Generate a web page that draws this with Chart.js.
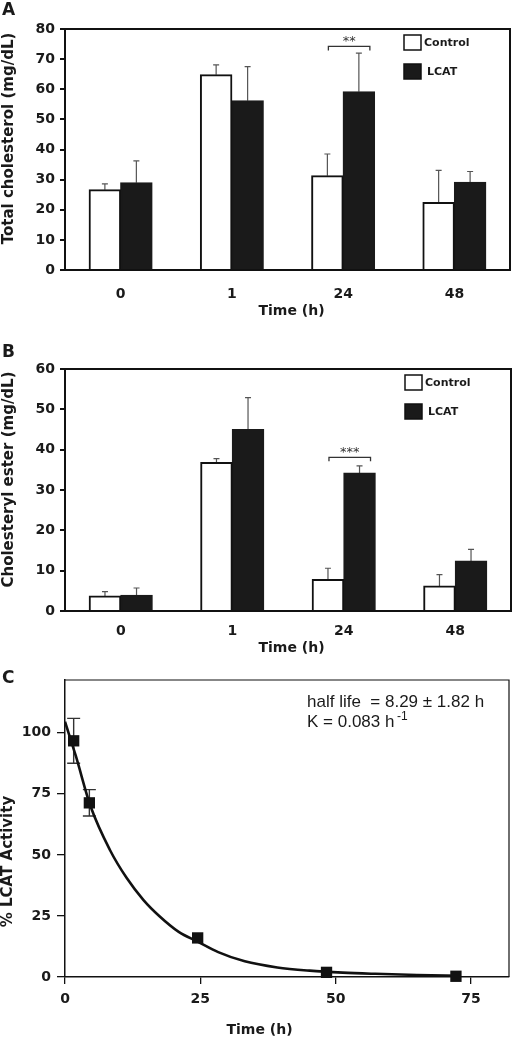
<!DOCTYPE html>
<html>
<head>
<meta charset="utf-8">
<script src="https://cdn.jsdelivr.net/npm/chart.js@4.4.1/dist/chart.umd.min.js"></script>
<style>
  body { margin: 0; background: #fff; }
  #page { position: relative; width: 517px; height: 1041px; overflow: hidden; }
  .panel { position: absolute; left: 0; width: 517px; }
  .letter { position: absolute; left: 2px; margin: 0; font: bold 17px/17px "DejaVu Sans", sans-serif; color: #1a1a1a; }
</style>
</head>
<body>
<div id="page">
  <div class="panel" style="top:0;height:335px"><canvas id="chartA"></canvas></div>
  <div class="panel" style="top:335px;height:330px"><canvas id="chartB"></canvas></div>
  <div class="panel" style="top:665px;height:376px"><canvas id="chartC"></canvas></div>
  <div class="letter" style="top:1px">A</div>
  <div class="letter" style="top:343px">B</div>
  <div class="letter" style="top:669px">C</div>
</div>
<script>
// data
const timeLabels = ['0', '1', '24', '48'];
const seriesNames = ['Control', 'LCAT'];

// A - total cholesterol (mg/dL), mean and upper SD
const cholControl = [26.6, 64.8, 31.3, 22.4];
const cholControlErr = [2.0, 3.3, 7.2, 10.7];
const cholLcat = [29.0, 56.2, 59.2, 29.1];
const cholLcatErr = [7.2, 11.3, 12.8, 3.6];
const cholTicks = [0, 10, 20, 30, 40, 50, 60, 70, 80];
const cholSig = { index: 2, value: 74.2, text: '**' };

// B - cholesteryl ester (mg/dL)
const esterControl = [3.7, 36.8, 7.8, 6.2];
const esterControlErr = [1.1, 1.0, 2.8, 2.8];
const esterLcat = [3.9, 45.0, 34.2, 12.4];
const esterLcatErr = [1.8, 7.9, 1.8, 2.9];
const esterTicks = [0, 10, 20, 30, 40, 50, 60];
const esterSig = { index: 2, value: 38.1, text: '***' };

// C - % LCAT activity over time
const decayTime = [1.6, 4.5, 24.5, 48.3, 72.2];
const decayActivity = [96.7, 71.3, 16.0, 1.9, 0.3];
const decayErr = [9.2, 5.4, 0, 0, 0];
const fitTime = [0, 2, 4.7, 8.3, 11.4, 14.5, 17.4, 21, 24.5, 28.3, 33.2, 39.2, 45.2, 51.3, 57.3, 65, 73];
const fitActivity = [104.5, 90.5, 70, 52, 40.5, 31.5, 25, 18.5, 14.5, 10.2, 6.4, 3.9, 2.6, 1.8, 1.3, 0.8, 0.5];
const hoursTicks = [0, 25, 50, 75];
const activityTicks = [0, 25, 50, 75, 100];

Chart.defaults.font.family = '"DejaVu Sans", sans-serif';
Chart.defaults.font.weight = 'bold';
Chart.defaults.font.size = 14;
Chart.defaults.color = '#1a1a1a';
Chart.defaults.animation = false;
Chart.defaults.plugins.legend.display = false;
Chart.defaults.plugins.tooltip.enabled = false;

// top and right edges of the box
function frame(width) {
  return {
    id: 'frame',
    afterDraw(chart) {
      const { ctx, chartArea: a } = chart;
      ctx.save();
      ctx.strokeStyle = '#111';
      ctx.lineWidth = width;
      ctx.beginPath();
      ctx.moveTo(a.left, a.top);
      ctx.lineTo(a.right, a.top);
      ctx.lineTo(a.right, a.bottom);
      ctx.stroke();
      ctx.restore();
    }
  };
}

function errorBars(o) {
  return {
    id: 'errorBars',
    beforeDatasetsDraw(chart) {
      const { ctx, scales: { y } } = chart;
      ctx.save();
      ctx.strokeStyle = o.color;
      ctx.lineWidth = o.width;
      chart.data.datasets.forEach((ds, i) => {
        if (!ds.errors) return;
        chart.getDatasetMeta(i).data.forEach((el, j) => {
          const err = ds.errors[j];
          if (!err) return;
          const d = ds.data[j];
          const v = typeof d === 'object' ? d.y : d;
          const top = y.getPixelForValue(v + err);
          const bot = y.getPixelForValue(o.both ? v - err : v);
          ctx.beginPath();
          ctx.moveTo(el.x, bot);
          ctx.lineTo(el.x, top);
          ctx.moveTo(el.x - o.cap, top);
          ctx.lineTo(el.x + o.cap, top);
          if (o.both) {
            ctx.moveTo(el.x - o.cap, bot);
            ctx.lineTo(el.x + o.cap, bot);
          }
          ctx.stroke();
        });
      });
      ctx.restore();
    }
  };
}

function boxLegend() {
  return {
    id: 'boxLegend',
    afterDraw(chart) {
      const { ctx, chartArea: a } = chart;
      ctx.save();
      ctx.font = 'bold 11px "DejaVu Sans"';
      ctx.textBaseline = 'middle';
      chart.data.datasets.forEach((ds, i) => {
        const bx = a.right - 106, by = a.top + 6 + i * 29;
        ctx.fillStyle = ds.backgroundColor;
        ctx.fillRect(bx, by, 17, 15);
        ctx.strokeStyle = '#111';
        ctx.lineWidth = 1.5;
        ctx.strokeRect(bx, by, 17, 15);
        ctx.fillStyle = '#1a1a1a';
        ctx.fillText(ds.label, bx + 20 + i * 3, by + 8);
      });
      ctx.restore();
    }
  };
}

function significance(s) {
  return {
    id: 'significance',
    afterDatasetsDraw(chart) {
      const { ctx, scales: { y } } = chart;
      const c = chart.getDatasetMeta(0).data[s.index];
      const l = chart.getDatasetMeta(1).data[s.index];
      const yy = y.getPixelForValue(s.value);
      const x1 = c.x + 1, x2 = l.x + 11;
      ctx.save();
      ctx.strokeStyle = '#333';
      ctx.lineWidth = 1.3;
      ctx.beginPath();
      ctx.moveTo(x1, yy + 4);
      ctx.lineTo(x1, yy);
      ctx.lineTo(x2, yy);
      ctx.lineTo(x2, yy + 4);
      ctx.stroke();
      ctx.font = '13px "DejaVu Sans"';
      ctx.fillStyle = '#333';
      ctx.textAlign = 'center';
      ctx.fillText(s.text, (x1 + x2) / 2, yy - 1);
      ctx.restore();
    }
  };
}

// axis titles and notes, placed like in the figure
function texts(items) {
  return {
    id: 'texts',
    afterDraw(chart) {
      const ctx = chart.ctx;
      items.forEach(t => {
        ctx.save();
        ctx.font = t.font;
        ctx.fillStyle = '#1a1a1a';
        ctx.textAlign = t.align || 'center';
        ctx.textBaseline = t.baseline || 'middle';
        ctx.translate(t.x, t.y);
        ctx.rotate(t.rot || 0);
        ctx.fillText(t.text, 0, 0);
        ctx.restore();
      });
    }
  };
}

function barChart(id, ctl, ctlErr, lcat, lcatErr, yTicks, sig, g) {
  return new Chart(document.getElementById(id), {
    type: 'bar',
    data: {
      labels: timeLabels,
      datasets: [
        { label: seriesNames[0], data: ctl, errors: ctlErr, backgroundColor: '#ffffff', borderColor: '#111', borderWidth: 2 },
        { label: seriesNames[1], data: lcat, errors: lcatErr, backgroundColor: '#1a1a1a', borderColor: '#1a1a1a', borderWidth: 2 }
      ]
    },
    options: {
      responsive: true,
      maintainAspectRatio: false,
      devicePixelRatio: 1,
      events: [],
      layout: { padding: { top: g.top, right: g.right, left: 0, bottom: 0 } },
      datasets: { bar: { categoryPercentage: 0.566, barPercentage: 1, inflateAmount: 0.5 } },
      scales: {
        x: {
          grid: { display: false, drawTicks: false },
          border: { color: '#111', width: 2 },
          ticks: { padding: g.xPad },
          afterFit: s => { s.height = g.xHeight; }
        },
        y: {
          min: 0,
          max: yTicks[yTicks.length - 1],
          afterBuildTicks: s => { s.ticks = yTicks.map(v => ({ value: v })); },
          grid: { drawOnChartArea: false, tickLength: 5, color: '#111', lineWidth: 2 },
          border: { color: '#111', width: 2 },
          ticks: { padding: 5 },
          afterFit: s => { s.width = 65; }
        }
      }
    },
    plugins: [
      frame(2),
      errorBars({ color: '#555', width: 1.2, cap: 3, both: false }),
      boxLegend(),
      significance(sig),
      texts(g.titles)
    ]
  });
}

barChart('chartA', cholControl, cholControlErr, cholLcat, cholLcatErr, cholTicks, cholSig, {
  top: 29, right: 7, xHeight: 65, xPad: 15.6,
  titles: [
    { text: 'Total cholesterol (mg/dL)', font: 'bold 15px "DejaVu Sans"', x: 9, y: 138.5, rot: -Math.PI / 2 },
    { text: 'Time (h)', font: 'bold 14px "DejaVu Sans"', x: 291.5, y: 311.7 }
  ]
});

barChart('chartB', esterControl, esterControlErr, esterLcat, esterLcatErr, esterTicks, esterSig, {
  top: 34, right: 6, xHeight: 54, xPad: 11.6,
  titles: [
    { text: 'Cholesteryl ester (mg/dL)', font: 'bold 15px "DejaVu Sans"', x: 9, y: 144.5, rot: -Math.PI / 2 },
    { text: 'Time (h)', font: 'bold 14px "DejaVu Sans"', x: 291.5, y: 313 }
  ]
});

new Chart(document.getElementById('chartC'), {
  type: 'scatter',
  data: {
    datasets: [
      {
        type: 'line',
        label: 'fit',
        data: fitTime.map((t, i) => ({ x: t, y: fitActivity[i] })),
        borderColor: '#111',
        borderWidth: 2.6,
        pointRadius: 0,
        cubicInterpolationMode: 'monotone',
        fill: false,
        order: 2
      },
      {
        label: '% LCAT Activity',
        data: decayTime.map((t, i) => ({ x: t, y: decayActivity[i] })),
        errors: decayErr,
        pointStyle: 'rect',
        pointRadius: 8,
        backgroundColor: '#111',
        borderWidth: 0,
        clip: false,
        order: 1
      }
    ]
  },
  options: {
    responsive: true,
    maintainAspectRatio: false,
    devicePixelRatio: 1,
    events: [],
    layout: { padding: { top: 15, right: 2, left: 0, bottom: 0 } },
    scales: {
      x: {
        type: 'linear',
        min: 0,
        max: 82,
        afterBuildTicks: s => { s.ticks = hoursTicks.map(v => ({ value: v })); },
        grid: { drawOnChartArea: false, tickLength: 7, color: '#111', lineWidth: 1.3 },
        border: { color: '#111', width: 1.5 },
        ticks: { padding: 6.6 },
        afterFit: s => { s.height = 64; }
      },
      y: {
        min: 0,
        max: 121.6,
        afterBuildTicks: s => { s.ticks = activityTicks.map(v => ({ value: v })); },
        grid: { drawOnChartArea: false, tickLength: 8, color: '#111', lineWidth: 1.3 },
        border: { color: '#111', width: 1.5 },
        ticks: { padding: 6, font: { size: 14 } },
        afterFit: s => { s.width = 65; }
      }
    }
  },
  plugins: [
    frame(1.2),
    errorBars({ color: '#333', width: 1.4, cap: 6.5, both: true }),
    texts([
      { text: '% LCAT Activity', font: 'bold 15px "DejaVu Sans"', x: 8.5, y: 196.5, rot: -Math.PI / 2 },
      { text: 'Time (h)', font: 'bold 14px "DejaVu Sans"', x: 259.5, y: 365 },
      { text: 'half life  = 8.29 \u00b1 1.82 h', font: '17px "Liberation Sans"', x: 307, y: 42, align: 'left', baseline: 'alphabetic' },
      { text: 'K = 0.083 h', font: '17px "Liberation Sans"', x: 307, y: 62, align: 'left', baseline: 'alphabetic' },
      { text: '-1', font: '12px "Liberation Sans"', x: 397, y: 55, align: 'left', baseline: 'alphabetic' }
    ])
  ]
});
</script>
</body>
</html>
